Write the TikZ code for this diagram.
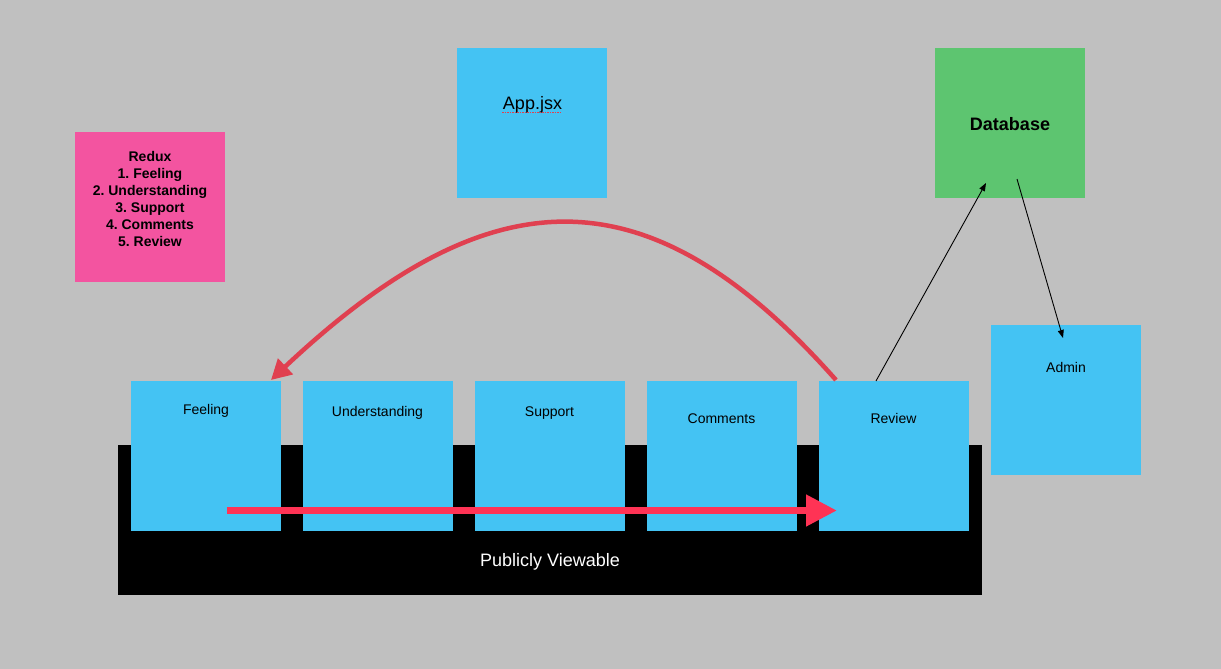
\documentclass[tikz,border=0pt]{standalone}
\usepackage{fontspec}
\setmainfont{Liberation Sans}
\usetikzlibrary{arrows.meta}
\definecolor{bg}{RGB}{192,192,192}
\definecolor{boxblue}{RGB}{68,195,243}
\definecolor{boxpink}{RGB}{243,84,160}
\definecolor{boxgreen}{RGB}{93,197,112}
\definecolor{flowred}{RGB}{255,51,85}
\definecolor{curvered}{RGB}{224,64,80}
\frenchspacing
\tikzset{
  sq/.style={minimum width=150pt,minimum height=150pt,inner sep=0pt,anchor=north west,draw=none},
  lbl/.style={inner sep=0pt,anchor=base,font=\fontsize{14}{17}\selectfont},
  biglbl/.style={inner sep=0pt,anchor=base,font=\fontsize{18}{22}\selectfont},
  thinarrow/.style={draw=black,line width=0.9pt,-{Triangle[length=8pt,width=6pt]}},
}
\begin{document}
\begin{tikzpicture}[x=1pt,y=-1pt]
\fill[bg] (0,0) rectangle (1221,669);
\useasboundingbox (0,0) rectangle (1221,669);
% black bar
\node[fill=black,inner sep=0pt,minimum width=864pt,minimum height=150pt,anchor=north west] (bar) at (118,445) {};
\node[biglbl,text=white] (pubtxt) at (550,566.5) {Publicly Viewable};
% top boxes
\node[sq,fill=boxpink] (redux) at (75,132) {};
\node[inner sep=0pt,anchor=north,align=center,font=\bfseries\fontsize{14}{17}\selectfont] (reduxtxt) at (150,150.8)
  {Redux\\1. Feeling\\2. Understanding\\3. Support\\4. Comments\\5. Review};
\node[sq,fill=boxblue] (app) at (457,48) {};
\node[biglbl] (apptxt) at (532.5,110) {App.jsx};
\draw[curvered,line width=1pt,dash pattern=on 1.5pt off 1pt] (502,112.5) -- (562,112.5);
\node[sq,fill=boxgreen] (db) at (935,48) {};
\node[biglbl,font=\bfseries\fontsize{18}{22}\selectfont] (dbtxt) at (1010,130.5) {Database};
\node[sq,fill=boxblue] (admin) at (991,325) {};
\node[lbl] (admintxt) at (1066,372) {Admin};
% row boxes
\node[sq,fill=boxblue] (feeling) at (131,381) {};
\node[lbl] (feelingtxt) at (206,414) {Feeling};
\node[sq,fill=boxblue] (underst) at (303,381) {};
\node[lbl] (understtxt) at (377.5,416) {Understanding};
\node[sq,fill=boxblue] (support) at (475,381) {};
\node[lbl] (supporttxt) at (549.5,416) {Support};
\node[sq,fill=boxblue] (comments) at (647,381) {};
\node[lbl] (commentstxt) at (721.5,423) {Comments};
\node[sq,fill=boxblue] (review) at (819,381) {};
\node[lbl] (reviewtxt) at (893.5,423) {Review};
% coordinates for connector ends
\coordinate (flowstart) at (227,510.5);
\coordinate (flowend) at (837,510.5);
\coordinate (curvestart) at (836,380);
\coordinate (curveend) at (271,380);
\coordinate (revout) at (876,381);
\coordinate (dbin) at (986,183);
\coordinate (dbout) at (1017,179);
\coordinate (adminin) at (1063,338);
% connectors
\draw[flowred,line width=7.5pt,-{Triangle[length=31pt,width=30pt]}] (flowstart) -- (flowend);
\draw[curvered,line width=4.5pt,-{Triangle[length=20pt,width=21pt]}] (curvestart) .. controls (650,170) and (492,172) .. (curveend);
\draw[thinarrow] (revout) -- (dbin);
\draw[thinarrow] (dbout) -- (adminin);
\end{tikzpicture}
\end{document}
